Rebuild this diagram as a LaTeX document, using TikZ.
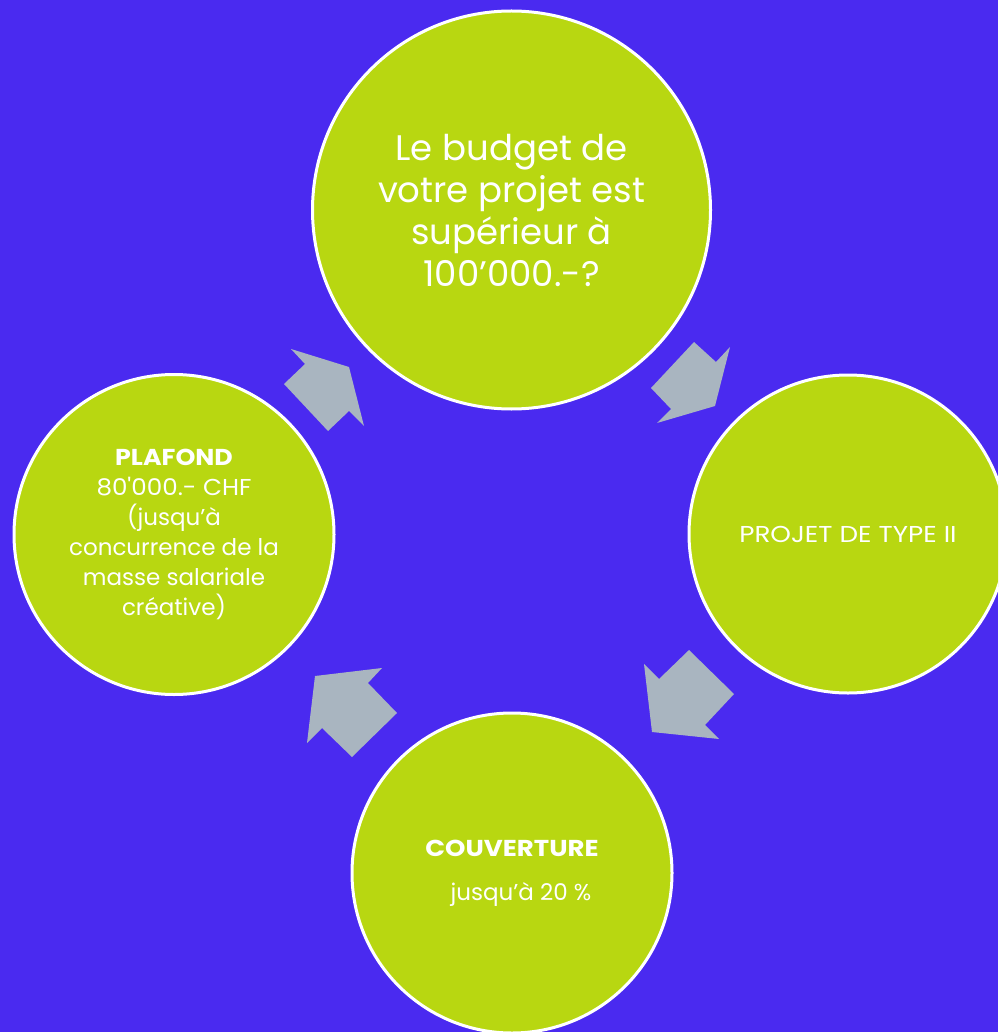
\documentclass[tikz,border=0pt]{standalone}
\usepackage{graphicx}
\usepackage{fontspec}
\setmainfont{Poppins}[Ligatures=TeXOff]
\definecolor{bg}{HTML}{4A2AF0}
\definecolor{lime}{HTML}{B8D711}
\definecolor{arrowgray}{HTML}{A9B5C0}
\newcommand{\wide}[2]{\scalebox{#1}[1]{#2}}
\begin{document}
\begin{tikzpicture}[x=1pt,y=-1pt,
  bubble/.style={circle,fill=lime,draw=white,line width=3pt,inner sep=0pt,text=white,align=center},
  flow/.style={fill=arrowgray}]
\clip (0,0) rectangle (998,1032);
\fill[bg] (0,0) rectangle (998,1032);
\node[bubble,minimum size=398pt,font=\fontsize{35.5}{42}\selectfont] (budget) at (511.5,210)
  {Le budget de\\votre projet est\\supérieur à\\100’000.-?};
\node[bubble,minimum size=318pt,font=\fontsize{23}{30}\selectfont] (type) at (848,534)
  {\wide{1.14}{PROJET DE TYPE II}};
\node[bubble,minimum size=320pt,font=\fontsize{23}{30}\selectfont] (couv) at (512,873)
  {\wide{1.13}{\textbf{COUVERTURE}}\\[14pt]\hspace*{18pt}jusqu’à 20 \%};
\node[bubble,minimum size=320pt,font=\fontsize{23}{30}\selectfont] (plaf) at (174,534.5)
  {\wide{1.1}{\textbf{PLAFOND}}\\\wide{1.07}{80'000.- CHF}\\(jusqu’à\\concurrence de la\\masse salariale\\créative)};
% block arrows
\fill[flow] (694,342) -- (716,362) -- (730,347) -- (715,406) -- (657,423) -- (671,409) -- (651,388) -- cycle;
\fill[flow] (689,650) -- (734,694) -- (705,725) -- (719,739) -- (652,732) -- (644,664) -- (659,679) -- cycle;
\fill[flow] (382,668) -- (368,683) -- (397,713) -- (352,757) -- (322,728) -- (307,743) -- (315,676) -- cycle;
\fill[flow] (291,349) -- (305,364) -- (284,384) -- (328,431) -- (349,411) -- (364,426) -- (349,367) -- cycle;
\end{tikzpicture}
\end{document}
